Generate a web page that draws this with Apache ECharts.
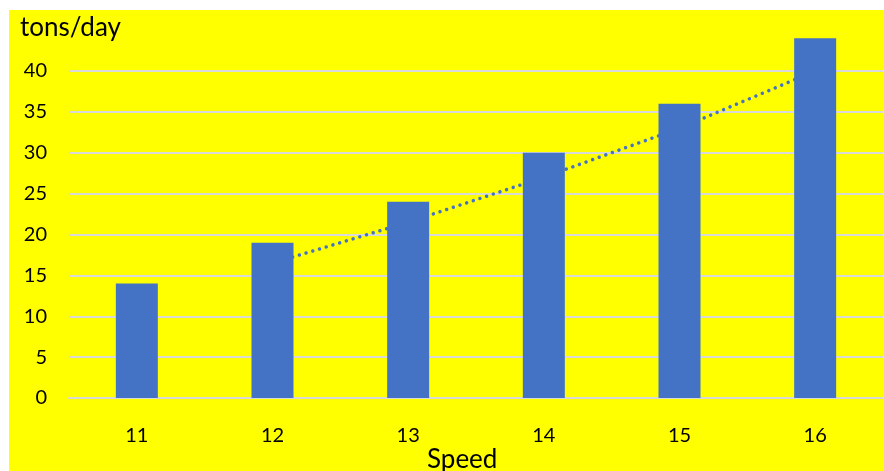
<!DOCTYPE html>
<html>
<head>
<meta charset="utf-8">
<script src="https://cdn.jsdelivr.net/npm/echarts@6/dist/echarts.min.js"></script>
<style>
  html, body { margin: 0; padding: 0; background: #ffffff; }
  #chart { position: absolute; left: 9px; top: 10px; width: 875px; height: 461px; }
</style>
</head>
<body>
<div id="chart"></div>
<script>
// Daily consumption by speed
const speeds = ['11', '12', '13', '14', '15', '16'];
const tonsPerDay = [14, 19, 24, 30, 36, 44];
// Two-period moving average of tonsPerDay (first point has no average)
const movingAvg = [null, 16.5, 21.5, 27, 33, 40];
const yTicks = { min: 0, max: 40, step: 5 };

const FONT = 'Lato, "Noto Sans", sans-serif';
const BLUE = '#4472C4';
const GRID_GRAY = '#D9D9D9';

const chart = echarts.init(document.getElementById('chart'), null, { renderer: 'canvas' });
chart.setOption({
  backgroundColor: '#FFFF00',
  animation: false,
  grid: { left: 60, right: 1, top: 61, bottom: 73, containLabel: false },
  graphic: [
    {
      type: 'text', left: 11, top: 5,
      style: { text: 'tons/day', font: '26px ' + FONT, fill: '#000000' }
    },
    {
      type: 'text', left: 418, top: 437,
      style: { text: 'Speed', font: '26px ' + FONT, fill: '#000000' }
    }
  ],
  xAxis: {
    type: 'category',
    data: speeds,
    axisLine: { show: true, lineStyle: { color: GRID_GRAY, width: 2 } },
    axisTick: { show: false },
    axisLabel: { color: '#000000', fontSize: 20, fontFamily: FONT, margin: 28 }
  },
  yAxis: {
    type: 'value',
    min: yTicks.min,
    max: yTicks.max,
    interval: yTicks.step,
    axisLine: { show: false },
    axisTick: { show: false },
    axisLabel: { color: '#000000', fontSize: 20, fontFamily: FONT, margin: 22 },
    splitLine: { show: true, lineStyle: { color: GRID_GRAY, width: 2 } }
  },
  series: [
    {
      type: 'line',
      data: movingAvg,
      z: 1,
      symbol: 'none',
      connectNulls: false,
      lineStyle: { color: BLUE, width: 3.5, type: [0.01, 7], cap: 'round' }
    },
    {
      type: 'bar',
      data: tonsPerDay,
      z: 2,
      clip: false,
      barWidth: 42,
      itemStyle: { color: BLUE }
    }
  ]
});
</script>
</body>
</html>
